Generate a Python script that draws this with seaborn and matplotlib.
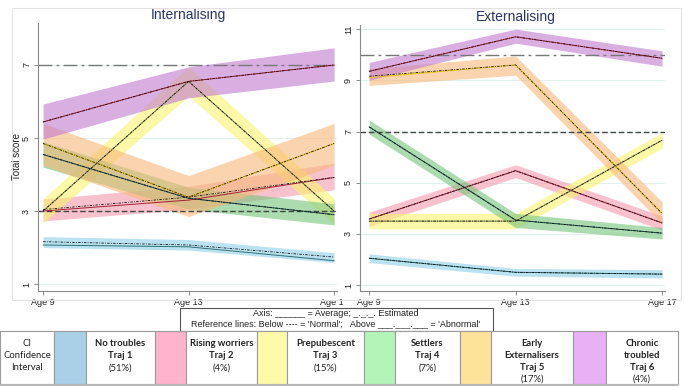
import matplotlib
matplotlib.use("Agg")
import matplotlib.pyplot as plt
import seaborn as sns
import pandas as pd
from matplotlib.patches import Rectangle

# ---------------- data ----------------
ages = [9, 13, 17]
age_labels = ["Age 9", "Age 13", "Age 17"]
trajs = ["T1", "T2", "T3", "T4", "T5", "T6"]

# Internalising
int_avg = {"T1": [2.07, 2.02, 1.64], "T2": [3.00, 3.30, 3.92], "T3": [3.00, 6.55, 3.00],
           "T4": [4.55, 3.35, 2.90], "T5": [4.85, 3.38, 4.85], "T6": [5.44, 6.55, 7.00]}
int_est = {"T1": [2.16, 2.07, 1.74], "T2": [3.04, 3.38, 3.92], "T3": [3.00, 6.55, 3.00],
           "T4": [4.55, 3.35, 2.90], "T5": [4.85, 3.38, 4.85], "T6": [5.44, 6.55, 7.00]}
int_lo = {"T1": [2.00, 1.93, 1.59], "T2": [2.73, 3.05, 3.58], "T3": [2.67, 6.15, 2.65],
          "T4": [4.20, 3.05, 2.62], "T5": [4.25, 2.85, 4.25], "T6": [4.97, 6.10, 6.56]}
int_hi = {"T1": [2.30, 2.22, 1.86], "T2": [3.33, 3.68, 4.31], "T3": [3.33, 6.95, 3.35],
          "T4": [4.90, 3.65, 3.20], "T5": [5.40, 3.97, 5.40], "T6": [5.93, 6.95, 7.47]}
int_ref = {"normal": 3, "abnormal": 7}

# Externalising
ext_avg = {"T1": [2.05, 1.50, 1.43], "T2": [3.58, 5.47, 3.43], "T3": [3.50, 3.50, 6.66],
           "T4": [7.18, 3.54, 3.03], "T5": [9.10, 9.60, 3.80], "T6": [9.35, 10.70, 9.86]}
ext_est = {"T1": [2.05, 1.50, 1.43], "T2": [3.58, 5.47, 3.43], "T3": [3.50, 3.50, 6.66],
           "T4": [7.18, 3.54, 3.03], "T5": [9.16, 9.60, 3.80], "T6": [9.35, 10.70, 9.86]}
ext_lo = {"T1": [1.88, 1.35, 1.28], "T2": [3.30, 5.20, 3.15], "T3": [3.20, 3.20, 6.35],
          "T4": [6.90, 3.25, 2.80], "T5": [8.80, 9.20, 3.40], "T6": [9.00, 10.45, 9.55]}
ext_hi = {"T1": [2.22, 1.65, 1.60], "T2": [3.85, 5.70, 3.70], "T3": [3.80, 3.80, 6.95],
          "T4": [7.45, 3.80, 3.25], "T5": [9.45, 9.95, 4.25], "T6": [9.70, 11.00, 10.15]}
ext_ref = {"normal": 7, "abnormal": 10}

int_yticks = [1, 3, 5, 7]
ext_yticks = [1, 3, 5, 7, 9, 11]

table_names = [("No troubles", "Traj 1", "(51%)"), ("Rising worriers", "Traj 2", "(4%)"),
               ("Prepubescent", "Traj 3", "(15%)"), ("Settlers", "Traj 4", "(7%)"),
               ("Early\nExternalisers", "Traj 5", "(17%)"), ("Chronic\ntroubled", "Traj 6", "(4%)")]

# ---------------- styles ----------------
band_colors = {"T1": "#8fd0e8", "T2": "#f39aae", "T3": "#f9f46c", "T4": "#74c47a",
               "T5": "#f8b878", "T6": "#c07ad0"}
avg_colors = {"T1": "#2f6f70", "T2": "#a02038", "T3": "#8a8a55", "T4": "#1f5050",
              "T5": "#e8c400", "T6": "#b02030"}
swatch_colors = ["#a9d0e6", "#ffb3cc", "#fffaa8", "#b3f5b8", "#fde39a", "#e8b0f5"]

W, H = 685, 387
sns.set_theme(style="white")
plt.rcParams["font.family"] = ["Liberation Sans", "DejaVu Sans"]

fig = plt.figure(figsize=(W / 100, H / 100), dpi=100)


def fx(px):
    return px / W


def fy(py):
    return 1 - py / H


# light outer frame
fig.patches.append(Rectangle((fx(12), fy(300)), fx(681) - fx(12), fy(8) - fy(300),
                             transform=fig.transFigure, fill=False, ec="#e2e2e2", lw=0.8))

ax1 = fig.add_axes([fx(38), fy(291), fx(337) - fx(38), fy(23) - fy(291)])
ax2 = fig.add_axes([fx(360), fy(291), fx(665) - fx(360), fy(25) - fy(291)])


def draw_panel(ax, avg, est, lo, hi, ref, yticks, ylim, xlim, title):
    for y in yticks:
        ax.axhline(y, color="#e4f1f1", lw=0.8, zorder=0)
    for t in trajs:
        ax.fill_between(ages, lo[t], hi[t], color=band_colors[t], alpha=0.6, lw=0, zorder=1)
    ax.axhline(ref["normal"], color="#444444", lw=1.0, dashes=(4, 2), zorder=2)
    ax.axhline(ref["abnormal"], color="#777777", lw=1.0, dashes=(10, 3, 2, 3), zorder=2)
    for t in trajs:
        sns.lineplot(x=ages, y=avg[t], ax=ax, color=avg_colors[t], lw=0.7,
                     legend=False, zorder=3)
        sns.lineplot(x=ages, y=est[t], ax=ax, color="#111111", lw=0.6,
                     dashes=(3, 1.5, 1, 1.5), legend=False, zorder=4)
    ax.set_xlim(*xlim)
    ax.set_ylim(*ylim)
    ax.set_xticks(ages)
    ax.set_xticklabels(age_labels, fontsize=6.5, color="#222222")
    ax.set_yticks(yticks)
    ax.set_yticklabels([str(v) for v in yticks], fontsize=6.5, rotation=90,
                       va="center", color="#222222")
    ax.tick_params(axis="both", length=3, width=0.6, color="#777777", pad=2,
                   bottom=True, left=True)
    for s in ["top", "right"]:
        ax.spines[s].set_visible(False)
    for s in ["left", "bottom"]:
        ax.spines[s].set_color("#8a8a8a")
        ax.spines[s].set_linewidth(0.8)
    ax.set_facecolor("none")
    ax.set_xlabel("")
    ax.set_ylabel("")
    ax.text(13, 1.005, title, transform=ax.get_xaxis_transform(), ha="center", va="bottom",
            fontsize=10, color="#2a3468")


draw_panel(ax1, int_avg, int_est, int_lo, int_hi, int_ref, int_yticks,
           (0.81, 8.15), (8.86, 17.08), "Internalising")
draw_panel(ax2, ext_avg, ext_est, ext_lo, ext_hi, ext_ref, ext_yticks,
           (0.77, 11.16), (8.75, 17.08), "Externalising")
ax1.set_ylabel("Total score", fontsize=7, color="#222222", labelpad=0)

# mask to clip left panel's last tick label like the reference (drawn with the right axes)
ax2.add_patch(Rectangle((fx(343), fy(306)), fx(357) - fx(343), fy(293) - fy(306),
                        transform=fig.transFigure, fc="white", ec="none",
                        clip_on=False, zorder=10))

# line legend box
fig.patches.append(Rectangle((fx(180), fy(331)), fx(493) - fx(180), fy(308) - fy(331),
                             transform=fig.transFigure, fill=False, ec="#555555", lw=0.8))
fig.text(fx(336), fy(313), "Axis: ______ = Average; _._._. Estimated", ha="center",
         va="center", fontsize=6.5, color="#222222")
fig.text(fx(336), fy(323.5),
         "Reference lines: Below ---- = 'Normal';   Above ___.___.___ = 'Abnormal'",
         ha="center", va="center", fontsize=6.5, color="#222222")

# trajectory table
edges = [0, 54, 86, 155, 186, 257, 287, 364, 395, 460, 491, 573, 606, 678]
ty0, ty1 = 331, 384
tfont = ["Lato", "DejaVu Sans"]
for i in range(len(edges) - 1):
    x0, x1 = edges[i], edges[i + 1]
    is_sw = i % 2 == 1
    fc = swatch_colors[i // 2] if is_sw else "white"
    fig.patches.append(Rectangle((fx(x0), fy(ty1)), fx(x1) - fx(x0), fy(ty0) - fy(ty1),
                                 transform=fig.transFigure, fc=fc, ec="#9a9a9a", lw=0.8))
fig.patches.append(Rectangle((fx(0), fy(385.5)), fx(678), fy(383.5) - fy(385.5),
                             transform=fig.transFigure, fc="#b8b8b8", ec="none"))

cx = (edges[0] + edges[1]) / 2
for k, s in enumerate(["CI", "Confidence", "Interval"]):
    fig.text(fx(cx), fy(344 + 12 * k), s, ha="center", va="center", fontsize=6.8,
             family=tfont, color="#222222")

for j, (name, traj, pct) in enumerate(table_names):
    x0, x1 = edges[2 + 2 * j], edges[3 + 2 * j]
    cx = (x0 + x1) / 2
    name_lines = name.split("\n")
    rows = [(s, "bold") for s in name_lines] + [(traj, "bold"), (pct, "normal")]
    step = 12 if len(rows) == 3 else 11.6
    for k, (s, wt) in enumerate(rows):
        fig.text(fx(cx), fy(344 + step * k), s, ha="center", va="center", fontsize=6.8,
                 family=tfont, weight=wt, color="#222222")

fig.savefig("out.png", dpi=100)
